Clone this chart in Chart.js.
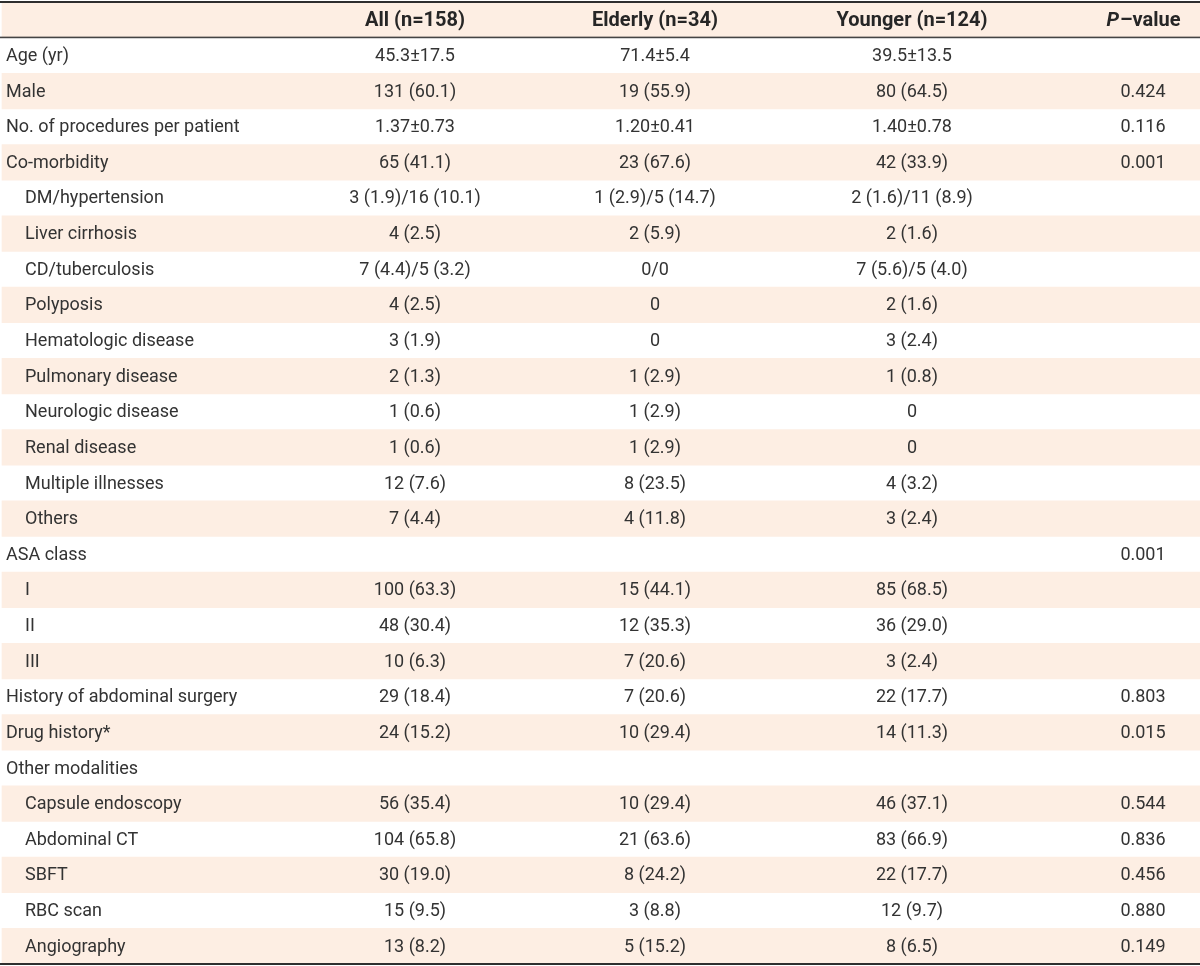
<!DOCTYPE html>
<html>
<head>
<meta charset="utf-8">
<script src="https://cdn.jsdelivr.net/npm/chart.js@4/dist/chart.umd.min.js"></script>
<style>
	html, body { margin: 0; padding: 0; background: #fff; }
	#wrap { width: 1200px; height: 966px; }
</style>
</head>
<body>
<div id="wrap"><canvas id="myChart" width="1200" height="966"></canvas></div>
<script>
// table content
var headers = ["All (n=158)", "Elderly (n=34)", "Younger (n=124)", "P-value"];
var rowLabels = [
	"Age (yr)", "Male", "No. of procedures per patient", "Co-morbidity",
	"DM/hypertension", "Liver cirrhosis", "CD/tuberculosis", "Polyposis",
	"Hematologic disease", "Pulmonary disease", "Neurologic disease", "Renal disease",
	"Multiple illnesses", "Others", "ASA class", "I", "II", "III",
	"History of abdominal surgery", "Drug history*", "Other modalities",
	"Capsule endoscopy", "Abdominal CT", "SBFT", "RBC scan", "Angiography",
];
var subRow = [
	false, false, false, false,
	true, true, true, true, true, true, true, true, true, true,
	false, true, true, true,
	false, false, false,
	true, true, true, true, true,
];
var allValues = [
	"45.3±17.5", "131 (60.1)", "1.37±0.73", "65 (41.1)",
	"3 (1.9)/16 (10.1)", "4 (2.5)", "7 (4.4)/5 (3.2)", "4 (2.5)",
	"3 (1.9)", "2 (1.3)", "1 (0.6)", "1 (0.6)", "12 (7.6)", "7 (4.4)",
	"", "100 (63.3)", "48 (30.4)", "10 (6.3)",
	"29 (18.4)", "24 (15.2)", "",
	"56 (35.4)", "104 (65.8)", "30 (19.0)", "15 (9.5)", "13 (8.2)",
];
var elderlyValues = [
	"71.4±5.4", "19 (55.9)", "1.20±0.41", "23 (67.6)",
	"1 (2.9)/5 (14.7)", "2 (5.9)", "0/0", "0",
	"0", "1 (2.9)", "1 (2.9)", "1 (2.9)", "8 (23.5)", "4 (11.8)",
	"", "15 (44.1)", "12 (35.3)", "7 (20.6)",
	"7 (20.6)", "10 (29.4)", "",
	"10 (29.4)", "21 (63.6)", "8 (24.2)", "3 (8.8)", "5 (15.2)",
];
var youngerValues = [
	"39.5±13.5", "80 (64.5)", "1.40±0.78", "42 (33.9)",
	"2 (1.6)/11 (8.9)", "2 (1.6)", "7 (5.6)/5 (4.0)", "2 (1.6)",
	"3 (2.4)", "1 (0.8)", "0", "0", "4 (3.2)", "3 (2.4)",
	"", "85 (68.5)", "36 (29.0)", "3 (2.4)",
	"22 (17.7)", "14 (11.3)", "",
	"46 (37.1)", "83 (66.9)", "22 (17.7)", "12 (9.7)", "8 (6.5)",
];
var pValues = [
	"", "0.424", "0.116", "0.001",
	"", "", "", "", "", "", "", "", "", "",
	"0.001", "", "", "",
	"0.803", "0.015", "",
	"0.544", "0.836", "0.456", "0.880", "0.149",
];

// layout / style
var colCenters = [415, 655, 912, 1143];
var labelX = 6;
var indentX = 25;
var peach = "#fdeee3";
var textColor = "#333";
var headColor = "#262626";
var bodyFont = "18px Roboto, 'Liberation Sans', sans-serif";
var headFont = "bold 20px Roboto, 'Liberation Sans', sans-serif";
var headItalic = "italic bold 20px Roboto, 'Liberation Sans', sans-serif";

var categories = ["header"].concat(rowLabels);
// header row and every other body row carry the peach band
var bands = categories.map((c, i) => (i === 0 || i % 2 === 0 ? [2, 1200] : null));

var tablePlugin = {
	id: "tableText",
	afterDatasetsDraw(chart) {
		const ctx = chart.ctx;
		const xs = chart.scales.x;
		const ys = chart.scales.y;
		const area = chart.chartArea;
		ctx.save();

		// rules
		ctx.fillStyle = "#2e2e2e";
		ctx.fillRect(0, area.top - 1, 1200, 2);
		const headBottom = (ys.getPixelForValue(0) + ys.getPixelForValue(1)) / 2;
		ctx.fillStyle = "#444";
		ctx.fillRect(0, headBottom - 1, 1200, 1.6);
		ctx.fillStyle = "#2e2e2e";
		ctx.fillRect(0, area.bottom - 1, 1200, 2);

		ctx.textBaseline = "middle";

		// header
		const hy = ys.getPixelForValue(0) + 1;
		ctx.fillStyle = headColor;
		ctx.font = headFont;
		ctx.textAlign = "center";
		for (let c = 0; c < 3; c++) {
			ctx.fillText(headers[c], xs.getPixelForValue(colCenters[c]), hy);
		}
		// "P" in italics, rest upright
		const pText = "P";
		const restText = "\u2013value";
		ctx.font = headItalic;
		const pw = ctx.measureText(pText).width;
		ctx.font = headFont;
		const rw = ctx.measureText(restText).width;
		const px0 = xs.getPixelForValue(colCenters[3]) - (pw + rw) / 2;
		ctx.textAlign = "left";
		ctx.font = headItalic;
		ctx.fillText(pText, px0, hy);
		ctx.font = headFont;
		ctx.fillText(restText, px0 + pw + 1, hy);

		// body
		ctx.font = bodyFont;
		ctx.fillStyle = textColor;
		rowLabels.forEach((label, i) => {
			const y = ys.getPixelForValue(i + 1) + 1;
			ctx.textAlign = "left";
			ctx.fillText(label, subRow[i] ? indentX : labelX, y);
			ctx.textAlign = "center";
			[allValues, elderlyValues, youngerValues, pValues].forEach((col, c) => {
				if (col[i]) ctx.fillText(col[i], xs.getPixelForValue(colCenters[c]), y);
			});
		});
		ctx.restore();
	},
};

var ctx = document.getElementById("myChart").getContext("2d");

var chart = new Chart(ctx, {
	type: "bar",
	data: {
		labels: categories,
		datasets: [
			{
				data: bands,
				backgroundColor: peach,
				borderWidth: 0,
				barPercentage: 1,
				categoryPercentage: 1,
			},
		],
	},
	options: {
		indexAxis: "y",
		responsive: false,
		animation: false,
		layout: { padding: { top: 2, bottom: 2, left: 0, right: 0 } },
		plugins: {
			legend: { display: false },
			tooltip: { enabled: false },
		},
		scales: {
			x: { type: "linear", min: 0, max: 1200, display: false },
			y: { type: "category", display: false, grid: { display: false } },
		},
	},
	plugins: [tablePlugin],
});
</script>
</body>
</html>
